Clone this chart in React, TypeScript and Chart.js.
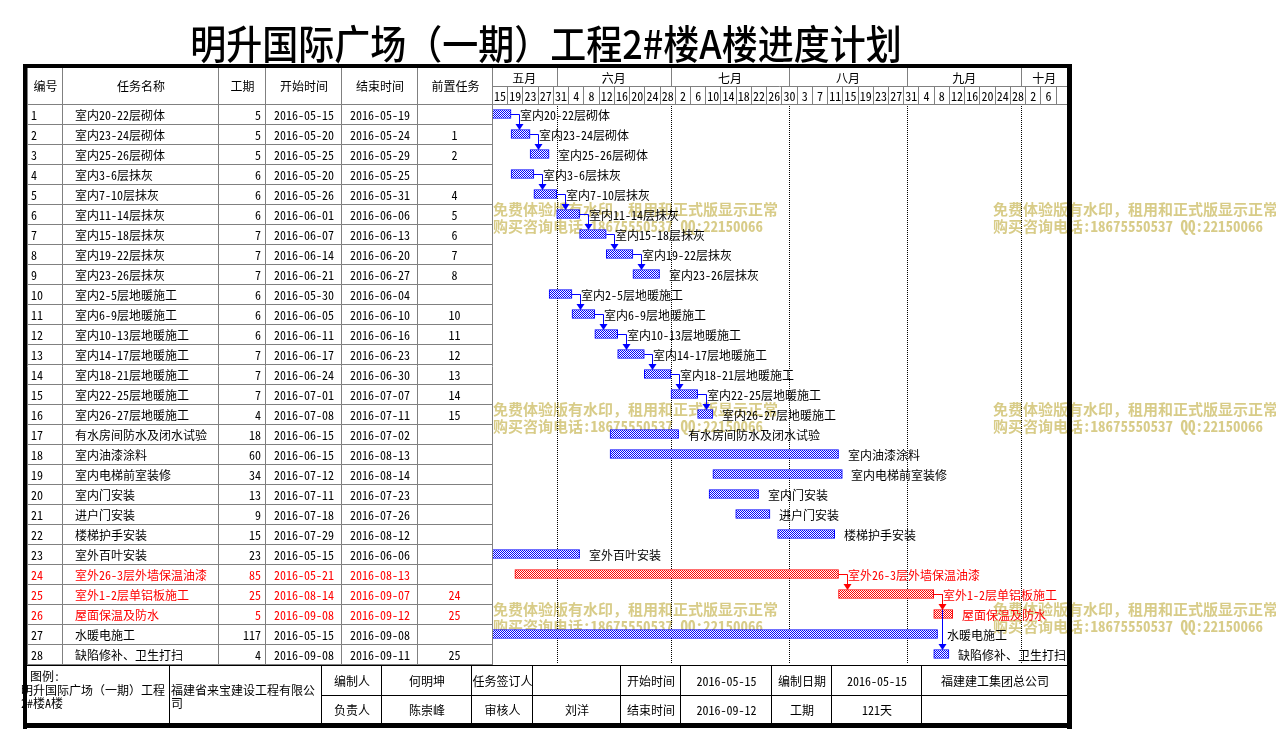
import React, { useEffect, useRef } from 'react';
import { Chart, registerables } from 'chart.js';

Chart.register(...registerables);

// ---------------- data ----------------
const TITLE = '明升国际广场（一期）工程2#楼A楼进度计划';
const tableHeaders = ['编号', '任务名称', '工期', '开始时间', '结束时间', '前置任务'];

const taskIds = [1, 2, 3, 4, 5, 6, 7, 8, 9, 10, 11, 12, 13, 14, 15, 16, 17, 18, 19, 20, 21, 22, 23, 24, 25, 26, 27, 28];
const taskNames = [
  '室内20-22层砌体', '室内23-24层砌体', '室内25-26层砌体', '室内3-6层抹灰', '室内7-10层抹灰',
  '室内11-14层抹灰', '室内15-18层抹灰', '室内19-22层抹灰', '室内23-26层抹灰', '室内2-5层地暖施工',
  '室内6-9层地暖施工', '室内10-13层地暖施工', '室内14-17层地暖施工', '室内18-21层地暖施工', '室内22-25层地暖施工',
  '室内26-27层地暖施工', '有水房间防水及闭水试验', '室内油漆涂料', '室内电梯前室装修', '室内门安装',
  '进户门安装', '楼梯护手安装', '室外百叶安装', '室外26-3层外墙保温油漆', '室外1-2层单铝板施工',
  '屋面保温及防水', '水暖电施工', '缺陷修补、卫生打扫',
];
const durations = [5, 5, 5, 6, 6, 6, 7, 7, 7, 6, 6, 6, 7, 7, 7, 4, 18, 60, 34, 13, 9, 15, 23, 85, 25, 5, 117, 4];
const startDates = [
  '2016-05-15', '2016-05-20', '2016-05-25', '2016-05-20', '2016-05-26', '2016-06-01', '2016-06-07',
  '2016-06-14', '2016-06-21', '2016-05-30', '2016-06-05', '2016-06-11', '2016-06-17', '2016-06-24',
  '2016-07-01', '2016-07-08', '2016-06-15', '2016-06-15', '2016-07-12', '2016-07-11', '2016-07-18',
  '2016-07-29', '2016-05-15', '2016-05-21', '2016-08-14', '2016-09-08', '2016-05-15', '2016-09-08',
];
const endDates = [
  '2016-05-19', '2016-05-24', '2016-05-29', '2016-05-25', '2016-05-31', '2016-06-06', '2016-06-13',
  '2016-06-20', '2016-06-27', '2016-06-04', '2016-06-10', '2016-06-16', '2016-06-23', '2016-06-30',
  '2016-07-07', '2016-07-11', '2016-07-02', '2016-08-13', '2016-08-14', '2016-07-23', '2016-07-26',
  '2016-08-12', '2016-06-06', '2016-08-13', '2016-09-07', '2016-09-12', '2016-09-08', '2016-09-11',
];
const predecessors: (number | null)[] = [
  null, 1, 2, null, 4, 5, 6, 7, 8, null, 10, 11, 12, 13, 14, 15, null, null, null, null, null, null, null, null, 24, 25, null, 25,
];
const criticalFlags = [
  false, false, false, false, false, false, false, false, false, false, false, false, false, false,
  false, false, false, false, false, false, false, false, false, true, true, true, false, false,
];

const PROJECT_START = '2016-05-15';
const AXIS_DAYS = 151;
const DAY_STEP = 4;
const monthLabels = ['五月', '六月', '七月', '八月', '九月', '十月'];
const monthStarts = ['2016-05-01', '2016-06-01', '2016-07-01', '2016-08-01', '2016-09-01', '2016-10-01'];
const dayTickLabels = [
  '15', '19', '23', '27', '31', '4', '8', '12', '16', '20', '24', '28', '2', '6', '10', '14', '18', '22', '26',
  '30', '3', '7', '11', '15', '19', '23', '27', '31', '4', '8', '12', '16', '20', '24', '28', '2', '6',
];

const legendLines = ['图例:', '明升国际广场（一期）工程', '2#楼A楼'];
const companyLines = ['福建省来宝建设工程有限公', '司'];
const footerRow1 = ['编制人', '何明坤', '任务签订人', '', '开始时间', '2016-05-15', '编制日期', '2016-05-15', '福建建工集团总公司'];
const footerRow2 = ['负责人', '陈崇峰', '审核人', '刘洋', '结束时间', '2016-09-12', '工期', '121天', ''];
const watermarkLines = ['免费体验版有水印，租用和正式版显示正常', '购买咨询电话:18675550537 QQ:22150066'];

// ---------------- layout / style ----------------
const W = 1276;
const H = 749;
const FONT = "'Noto Sans Mono CJK SC', 'Noto Sans CJK SC', sans-serif";
const GRID = '#808080';
const BLUE = '#0000ff';
const RED = '#ff0000';
const WM = '#d8cc88';
const G_LEFT = 492;
const G_RIGHT = 1067;
const HEAD_TOP = 68;
const HEAD_MID = 86;
const HEAD_BOTTOM = 104;
const ROW_H = 20;
const TABLE_BOTTOM = HEAD_BOTTOM + ROW_H * taskIds.length;
const FOOT_TOP = 665;
const FOOT_MID = 695;
const FOOT_BOTTOM = 723;
const colX = [27, 62, 218, 265, 341, 417, 492];
const footX = [27, 169, 321, 381, 471, 532, 620, 680, 771, 831, 921, 1067];
const wmX = [493, 993];
const wmY = [209, 409, 609];

function dayIndex(s: string): number {
  const [y, m, d] = s.split('-').map(Number);
  const [y0, m0, d0] = PROJECT_START.split('-').map(Number);
  return Math.round((Date.UTC(y, m - 1, d) - Date.UTC(y0, m0 - 1, d0)) / 86400000);
}

function makePattern(ctx: CanvasRenderingContext2D, color: string) {
  const c = document.createElement('canvas');
  c.width = 2;
  c.height = 2;
  const g = c.getContext('2d')!;
  g.fillStyle = '#ffffff';
  g.fillRect(0, 0, 2, 2);
  g.fillStyle = color;
  g.fillRect(0, 0, 1, 1);
  g.fillRect(1, 1, 1, 1);
  return ctx.createPattern(c, 'repeat')!;
}

function hLine(ctx: CanvasRenderingContext2D, x1: number, x2: number, y: number) {
  ctx.beginPath();
  ctx.moveTo(x1, y + 0.5);
  ctx.lineTo(x2, y + 0.5);
  ctx.stroke();
}
function vLine(ctx: CanvasRenderingContext2D, x: number, y1: number, y2: number) {
  ctx.beginPath();
  ctx.moveTo(x + 0.5, y1);
  ctx.lineTo(x + 0.5, y2);
  ctx.stroke();
}

const ganttPlugin = {
  id: 'gantt',
  beforeDraw(chart: any) {
    const ctx: CanvasRenderingContext2D = chart.ctx;
    ctx.save();
    ctx.fillStyle = '#ffffff';
    ctx.fillRect(0, 0, W, H);
    // watermarks (under everything)
    ctx.fillStyle = WM;
    ctx.font = `bold 15px ${FONT}`;
    ctx.textBaseline = 'middle';
    ctx.textAlign = 'left';
    wmY.forEach((y) => {
      wmX.forEach((x) => {
        ctx.fillText(watermarkLines[0], x, y);
        ctx.fillText(watermarkLines[1], x, y + 17);
      });
    });
    ctx.restore();
  },
  beforeDatasetsDraw(chart: any) {
    const ctx: CanvasRenderingContext2D = chart.ctx;
    const xs = chart.scales.x;
    const area = chart.chartArea;
    ctx.save();
    ctx.strokeStyle = '#000000';
    ctx.lineWidth = 1;
    ctx.setLineDash([1, 1]);
    monthStarts.forEach((m) => {
      const px = Math.round(xs.getPixelForValue(dayIndex(m)));
      if (px > area.left && px < area.right - 1) vLine(ctx, px, area.top, area.bottom);
    });
    ctx.restore();
  },
  afterDatasetsDraw(chart: any) {
    const ctx: CanvasRenderingContext2D = chart.ctx;
    const meta = chart.getDatasetMeta(0);
    ctx.save();
    ctx.lineWidth = 1;
    const order = taskIds.map((_, i) => i).sort((a, b) => Number(criticalFlags[a]) - Number(criticalFlags[b]));
    order.forEach((i) => {
      const p = predecessors[i];
      if (p == null) return;
      const pe = meta.data[p - 1];
      const se = meta.data[i];
      const color = criticalFlags[i] ? RED : BLUE;
      ctx.strokeStyle = color;
      ctx.fillStyle = color;
      const x = Math.round(pe.x) + 8;
      const y0 = Math.round(pe.y);
      const top = Math.round(se.y - se.height / 2);
      ctx.beginPath();
      ctx.moveTo(pe.x, y0 + 0.5);
      ctx.lineTo(x + 0.5, y0 + 0.5);
      ctx.lineTo(x + 0.5, top - 5);
      ctx.stroke();
      ctx.beginPath();
      ctx.moveTo(x + 0.5 - 4, top - 6);
      ctx.lineTo(x + 0.5 + 4, top - 6);
      ctx.lineTo(x + 0.5, top);
      ctx.closePath();
      ctx.fill();
    });
    // bar labels
    ctx.font = `12px ${FONT}`;
    ctx.textBaseline = 'middle';
    ctx.textAlign = 'left';
    meta.data.forEach((el: any, i: number) => {
      ctx.fillStyle = criticalFlags[i] ? RED : '#000000';
      ctx.fillText(taskNames[i], Math.round(el.x) + 9, Math.round(el.y) + 1);
    });
    ctx.restore();
  },
  afterDraw(chart: any) {
    const ctx: CanvasRenderingContext2D = chart.ctx;
    const xs = chart.scales.x;
    ctx.save();
    ctx.lineWidth = 1;
    ctx.font = `12px ${FONT}`;
    ctx.textBaseline = 'middle';

    // ---- left table ----
    ctx.strokeStyle = GRID;
    colX.forEach((x) => vLine(ctx, x, HEAD_TOP, TABLE_BOTTOM + 1));
    for (let k = 0; k <= taskIds.length; k++) {
      hLine(ctx, colX[0], G_LEFT, HEAD_BOTTOM + k * ROW_H);
    }
    ctx.fillStyle = '#000000';
    ctx.textAlign = 'center';
    tableHeaders.forEach((h, c) => {
      ctx.fillText(h, (colX[c] + colX[c + 1]) / 2 + 1, (HEAD_TOP + HEAD_BOTTOM) / 2);
    });
    taskIds.forEach((id, i) => {
      const cy = HEAD_BOTTOM + i * ROW_H + ROW_H / 2 + 1;
      ctx.fillStyle = criticalFlags[i] ? RED : '#000000';
      ctx.textAlign = 'left';
      ctx.fillText(String(id), colX[0] + 4, cy);
      ctx.fillText(taskNames[i], 75, cy);
      ctx.textAlign = 'right';
      ctx.fillText(String(durations[i]), colX[3] - 4, cy);
      ctx.textAlign = 'center';
      ctx.fillText(startDates[i], (colX[3] + colX[4]) / 2 + 1, cy);
      ctx.fillText(endDates[i], (colX[4] + colX[5]) / 2 + 1, cy);
      const p = predecessors[i];
      if (p != null) ctx.fillText(String(p), (colX[5] + colX[6]) / 2, cy);
    });

    // ---- gantt header ----
    ctx.strokeStyle = GRID;
    hLine(ctx, G_LEFT, G_RIGHT, HEAD_MID);
    hLine(ctx, G_LEFT, G_RIGHT, HEAD_BOTTOM);
    ctx.fillStyle = '#000000';
    ctx.textAlign = 'center';
    monthLabels.forEach((m, i) => {
      const a = Math.max(G_LEFT, xs.getPixelForValue(dayIndex(monthStarts[i])));
      const bRaw = i + 1 < monthStarts.length ? xs.getPixelForValue(dayIndex(monthStarts[i + 1])) : G_RIGHT;
      const b = Math.min(G_RIGHT, bRaw);
      if (a > G_LEFT) vLine(ctx, Math.round(a), HEAD_TOP, HEAD_MID);
      ctx.fillText(m, (a + b) / 2, (HEAD_TOP + HEAD_MID) / 2 + 1);
    });
    for (let k = 0; k * DAY_STEP < AXIS_DAYS; k++) {
      const a = xs.getPixelForValue(k * DAY_STEP);
      const b = xs.getPixelForValue((k + 1) * DAY_STEP);
      if (k > 0) vLine(ctx, Math.round(a), HEAD_MID, HEAD_BOTTOM);
      if (b <= G_RIGHT + 0.5 && dayTickLabels[k]) {
        ctx.fillText(dayTickLabels[k], (a + b) / 2 + 0.5, (HEAD_MID + HEAD_BOTTOM) / 2 + 1);
      }
    }

    // ---- footer ----
    ctx.strokeStyle = '#000000';
    hLine(ctx, colX[0], G_RIGHT, FOOT_TOP);
    hLine(ctx, footX[2], G_RIGHT, FOOT_MID);
    footX.forEach((x, i) => {
      if (i > 0 && i < footX.length - 1) vLine(ctx, x, FOOT_TOP, FOOT_BOTTOM);
    });
    ctx.fillStyle = '#000000';
    ctx.textAlign = 'left';
    ctx.fillText(legendLines[0], 30, 676);
    ctx.fillText(legendLines[1], 21, 690);
    ctx.fillText(legendLines[2], 21, 703);
    ctx.fillText(companyLines[0], footX[1] + 2, 690);
    ctx.fillText(companyLines[1], footX[1] + 2, 703);
    ctx.textAlign = 'center';
    footerRow1.forEach((t, i) => {
      if (t) ctx.fillText(t, (footX[i + 2] + footX[i + 3]) / 2 + 1, (FOOT_TOP + FOOT_MID) / 2 + 1);
    });
    footerRow2.forEach((t, i) => {
      if (t) ctx.fillText(t, (footX[i + 2] + footX[i + 3]) / 2 + 1, (FOOT_MID + FOOT_BOTTOM) / 2 + 1);
    });

    // ---- thick outer border ----
    ctx.fillStyle = '#000000';
    ctx.fillRect(23, 64, 1072 - 23, 4);
    ctx.fillRect(23, 64, 4, 729 - 64);
    ctx.fillRect(G_RIGHT, 64, 5, 729 - 64);
    ctx.fillRect(23, FOOT_BOTTOM, 1072 - 23, 5);

    // ---- title ----
    ctx.save();
    ctx.translate(546, 44);
    ctx.scale(1, 1.1);
    ctx.font = `500 36px 'Noto Sans CJK SC', sans-serif`;
    ctx.textAlign = 'center';
    ctx.textBaseline = 'middle';
    ctx.fillText(TITLE, 0, 0);
    ctx.restore();

    ctx.restore();
  },
};

export default function App() {
  const ref = useRef<HTMLCanvasElement>(null);
  useEffect(() => {
    const canvas = ref.current!;
    const ctx = canvas.getContext('2d')!;
    const bluePat = makePattern(ctx, BLUE);
    const redPat = makePattern(ctx, RED);
    const chart = new Chart(canvas, {
      type: 'bar',
      data: {
        labels: taskIds.map(String),
        datasets: [
          {
            data: startDates.map((s, i) => [dayIndex(s), dayIndex(endDates[i]) + 1]) as any,
            backgroundColor: criticalFlags.map((c) => (c ? redPat : bluePat)) as any,
            borderColor: criticalFlags.map((c) => (c ? RED : BLUE)),
            borderWidth: 1,
            borderSkipped: false,
            barThickness: 9,
          },
        ],
      },
      options: {
        indexAxis: 'y',
        responsive: false,
        animation: false,
        devicePixelRatio: 1,
        events: [],
        layout: { padding: { left: G_LEFT, right: W - G_RIGHT, top: HEAD_BOTTOM, bottom: H - TABLE_BOTTOM } },
        scales: {
          x: { type: 'linear', min: 0, max: AXIS_DAYS, display: false },
          y: { type: 'category', display: false, offset: true },
        },
        plugins: { legend: { display: false }, tooltip: { enabled: false }, title: { display: false } },
      },
      plugins: [ganttPlugin],
    } as any);
    return () => chart.destroy();
  }, []);
  return (
    <div style={{ position: 'absolute', left: 0, top: 0, width: W, height: H, overflow: 'hidden', background: '#fff' }}>
      <canvas ref={ref} width={W} height={H} style={{ display: 'block', width: W, height: H }} />
    </div>
  );
}
